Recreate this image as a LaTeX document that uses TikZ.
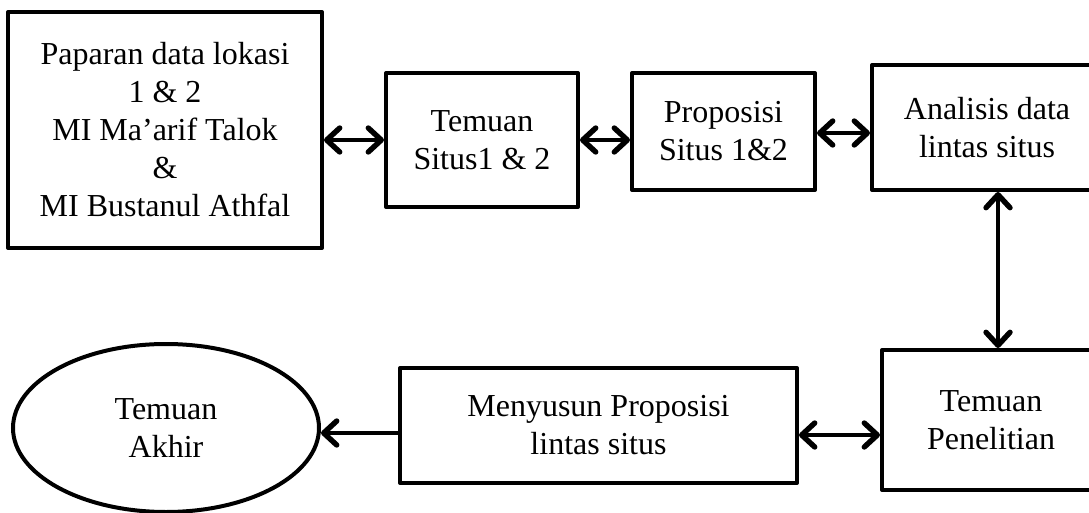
\documentclass[tikz,border=0pt]{standalone}
\usepackage{fontspec}
\setmainfont{Liberation Serif}
\usetikzlibrary{arrows.meta,shapes.geometric}
\begin{document}
\begin{tikzpicture}[x=1pt,y=-1pt,
  txt/.style={align=center,inner sep=0pt,font=\fontsize{32}{38}\selectfont},
  box/.style={txt,draw,line width=4pt,rectangle,line join=round},
  oval/.style={txt,draw,line width=4pt,ellipse},
  conn/.style={line width=4pt,line cap=round},
  >={Straight Barb[length=13pt,width=24pt,line width=0pt 1.35,round]},
]
\useasboundingbox (0,0) rectangle (1089,513);
\node[box,minimum width=314pt,minimum height=236pt] (b1) at (165,130) {Paparan data lokasi\\1 \& 2\\MI Ma'arif Talok\\\&\\ MI Bustanul Athfal};
\node[box,minimum width=192pt,minimum height=134pt] (b2) at (482,140) {Temuan\\Situs1 \& 2};
\node[box,minimum width=183pt,minimum height=117pt] (b3) at (723.5,131.5) {Proposisi\\Situs 1\&2};
\node[box,minimum width=230pt,minimum height=125pt] (b4) at (987,127.5) {Analisis data\\lintas situs};
\node[box,minimum width=218pt,minimum height=140pt] (b5) at (991,420) {Temuan\\Penelitian};
\node[box,minimum width=397pt,minimum height=115pt] (b6) at (598.5,425.5) {Menyusun Proposisi\\lintas situs};
\node[oval,minimum width=306pt,minimum height=168pt] (e) at (166,428) {Temuan\\Akhir};
\coordinate (v) at (998,0);
\draw[conn,<->] (b1.east |- b2.center) -- (b2.west);
\draw[conn,<->] (b2.east |- b2.center) -- (b3.west |- b2.center);
\draw[conn,<->] (b3.east |- 0,133) -- (b4.west |- 0,133);
\draw[conn,<->] (v |- b4.south) -- (v |- b5.north);
\draw[conn,<->] (b6.east |- 0,435) -- (b5.west |- 0,435);
\draw[conn,->] (b6.west |- 0,433) -- (e.east |- 0,433);
\end{tikzpicture}
\end{document}
